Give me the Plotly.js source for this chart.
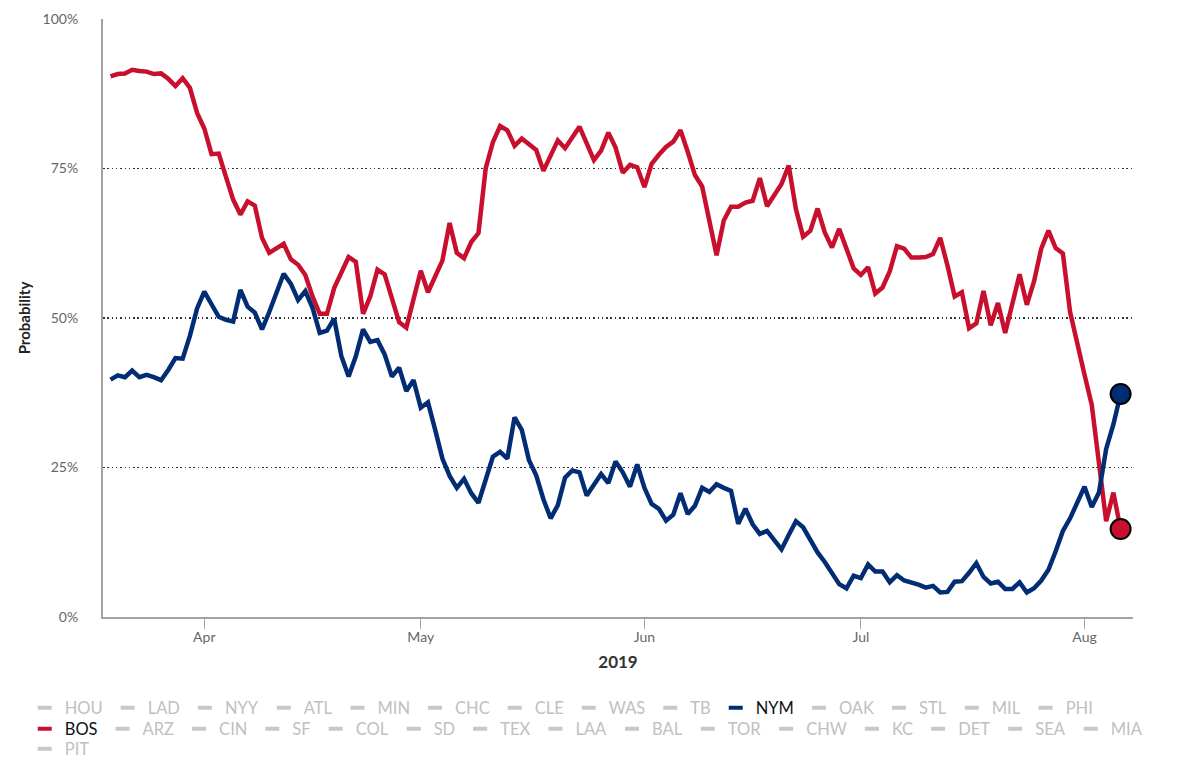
<!DOCTYPE html>
<html>
<head>
<meta charset="utf-8">
<script src="https://cdn.plot.ly/plotly-3.0.1.min.js"></script>
<style>
  html, body { margin: 0; padding: 0; background: #ffffff; }
  #chart { width: 1200px; height: 761px; }
</style>
</head>
<body>
<div id="chart"></div>
<script>
// ---- Data (daily, starting 2019-03-19) ----
const startDate = '2019-03-19';

const bosProb = [
  90.4, 90.8, 90.9, 91.5, 91.3, 91.2, 90.8, 90.9, 90.0, 88.8,
  90.1, 88.5, 84.3, 81.7, 77.4, 77.5, 73.6, 69.8, 67.3, 69.5,
  68.8, 63.4, 60.9, 61.6, 62.4, 59.8, 58.9, 57.2, 53.6, 50.7,
  50.7, 55.0, 57.7, 60.2, 59.4, 50.7, 53.6, 58.1, 57.3, 53.2,
  49.3, 48.4, 53.2, 57.9, 54.3, 57.1, 59.6, 65.9, 60.9, 60.0,
  62.7, 64.2, 75.0, 79.4, 82.1, 81.4, 78.8, 80.0, 79.0, 78.1,
  74.6, 77.0, 79.7, 78.4, 80.2, 82.0, 79.2, 76.4, 78.0, 81.0,
  78.5, 74.3, 75.6, 75.2, 71.9, 75.8, 77.3, 78.6, 79.5, 81.4,
  77.8, 73.9, 72.0, 66.5, 60.5, 66.3, 68.6, 68.6, 69.3, 69.6,
  73.4, 68.7, 70.5, 72.4, 75.5, 68.2, 63.6, 64.6, 68.3, 64.3,
  61.8, 64.9, 61.6, 58.3, 57.2, 58.5, 54.1, 55.1, 57.8, 62.0,
  61.6, 60.1, 60.1, 60.2, 60.7, 63.4, 58.8, 53.6, 54.3, 48.3,
  49.1, 54.5, 48.8, 52.5, 47.5, 52.3, 57.3, 52.2, 56.1, 61.6,
  64.6, 61.7, 60.8, 51.0, 45.5, 40.5, 35.5, 25.2, 16.0, 20.8,
  14.7
];

const nymProb = [
  39.7, 40.4, 40.1, 41.2, 40.1, 40.5, 40.1, 39.6, 41.3, 43.3,
  43.2, 47.0, 51.6, 54.4, 52.3, 50.2, 49.7, 49.4, 54.7, 51.9,
  50.9, 48.1, 51.0, 54.3, 57.4, 55.7, 53.0, 54.5, 51.7, 47.5,
  47.9, 49.9, 43.6, 40.2, 43.6, 48.1, 46.0, 46.3, 43.9, 40.2,
  41.7, 37.8, 39.6, 35.0, 35.9, 31.3, 26.5, 23.6, 21.6, 23.1,
  20.7, 19.1, 22.9, 26.8, 27.6, 26.5, 33.4, 31.3, 26.2, 23.7,
  19.7, 16.5, 18.7, 23.3, 24.5, 24.2, 20.3, 22.0, 23.9, 22.4,
  26.0, 24.2, 21.8, 25.5, 21.6, 18.9, 18.1, 16.1, 17.1, 20.7,
  17.2, 18.6, 21.6, 20.9, 22.2, 21.6, 21.1, 15.6, 18.1, 15.5,
  13.9, 14.4, 12.7, 11.3, 13.7, 16.0, 15.0, 12.8, 10.8, 9.2,
  7.3, 5.5, 4.8, 6.9, 6.5, 8.8, 7.6, 7.6, 5.8, 7.0,
  6.1, 5.8, 5.4, 4.9, 5.2, 4.1, 4.2, 5.9, 6.0, 7.4,
  9.0, 6.7, 5.6, 5.9, 4.7, 4.7, 5.8, 4.1, 4.8, 6.1,
  7.9, 11.0, 14.4, 16.5, 19.2, 21.8, 18.4, 20.8, 28.1, 32.2,
  37.3
];

const yTicks = [0, 25, 50, 75, 100];
const yTickText = ['0%', '25%', '50%', '75%', '100%'];
const monthTicks = ['2019-04-01', '2019-05-01', '2019-06-01', '2019-07-01', '2019-08-01'];
const monthLabels = ['Apr', 'May', 'Jun', 'Jul', 'Aug'];

const legendRow1 = ['HOU', 'LAD', 'NYY', 'ATL', 'MIN', 'CHC', 'CLE', 'WAS', 'TB', 'NYM', 'OAK', 'STL', 'MIL', 'PHI'];
const legendRow2 = ['BOS', 'ARZ', 'CIN', 'SF', 'COL', 'SD', 'TEX', 'LAA', 'BAL', 'TOR', 'CHW', 'KC', 'DET', 'SEA', 'MIA'];
const legendRow3 = ['PIT'];

const teamColors = { NYM: '#022C73', BOS: '#C8102E' };
const inactiveSymbol = '#c8c8c8';
const inactiveText = '#c0c0c0';

// ---- Build dates ----
function buildDates(start, n) {
  const out = [];
  const d0 = new Date(start + 'T00:00:00Z');
  for (let i = 0; i < n; i++) {
    const d = new Date(d0.getTime() + i * 86400000);
    out.push(d.toISOString().slice(0, 10));
  }
  return out;
}
const dates = buildDates(startDate, bosProb.length);

const traces = [];

traces.push({
  type: 'scatter', mode: 'lines', name: 'BOS',
  x: dates, y: bosProb,
  line: { color: teamColors.BOS, width: 4.5, shape: 'linear' },
  showlegend: false, hoverinfo: 'skip'
});
traces.push({
  type: 'scatter', mode: 'lines', name: 'NYM',
  x: dates, y: nymProb,
  line: { color: teamColors.NYM, width: 4.5, shape: 'linear' },
  showlegend: false, hoverinfo: 'skip'
});
// end-point markers
traces.push({
  type: 'scatter', mode: 'markers', name: 'BOS end',
  x: [dates[dates.length - 1]], y: [bosProb[bosProb.length - 1]],
  marker: { color: teamColors.BOS, size: 20, line: { color: '#000', width: 2 } },
  showlegend: false, hoverinfo: 'skip', cliponaxis: false
});
traces.push({
  type: 'scatter', mode: 'markers', name: 'NYM end',
  x: [dates[dates.length - 1]], y: [nymProb[nymProb.length - 1]],
  marker: { color: teamColors.NYM, size: 20, line: { color: '#000', width: 2 } },
  showlegend: false, hoverinfo: 'skip', cliponaxis: false
});

function addLegendRow(teams, legendId) {
  teams.forEach(t => {
    const active = teamColors[t] !== undefined;
    const col = active ? teamColors[t] : inactiveSymbol;
    traces.push({
      type: 'scatter', mode: 'markers',
      name: active ? t : '<span style="color:' + inactiveText + '">' + t + '</span>',
      x: [null], y: [null],
      legend: legendId,
      marker: { symbol: 'line-ew', size: 10, color: col, line: { color: col, width: 4 } },
      showlegend: true, hoverinfo: 'skip'
    });
  });
}
addLegendRow(legendRow1, 'legend');
addLegendRow(legendRow2, 'legend2');
addLegendRow(legendRow3, 'legend3');

const legendBase = {
  orientation: 'h', xanchor: 'left', yanchor: 'middle',
  x: -0.076,
  font: { family: 'Lato', size: 16.5, color: '#111' },
  bgcolor: 'rgba(0,0,0,0)', borderwidth: 0,
  itemwidth: 30, itemclick: false, itemdoubleclick: false,
  traceorder: 'normal'
};

const layout = {
  width: 1200, height: 761,
  margin: { l: 103, r: 67, t: 19, b: 144, autoexpand: false },
  paper_bgcolor: '#ffffff', plot_bgcolor: '#ffffff',
  font: { family: 'Lato', size: 14, color: '#666' },
  showlegend: true,
  xaxis: {
    type: 'date',
    range: ['2019-03-17 23:00', '2019-08-07 17:15'],
    tickvals: monthTicks, ticktext: monthLabels,
    showgrid: false, zeroline: false,
    showline: true, linecolor: '#a3a3a3', linewidth: 2,
    ticks: 'outside', ticklen: 10, tickwidth: 1, tickcolor: '#a3a3a3',
    ticklabelstandoff: -4,
    tickfont: { family: 'Lato', size: 14, color: '#666' },
    title: { text: '2019', font: { family: 'Lato', size: 17, color: '#333', weight: 'bold' }, standoff: 12 },
    fixedrange: true
  },
  yaxis: {
    range: [0, 100],
    tickvals: yTicks, ticktext: yTickText,
    showgrid: true, gridcolor: '#333', gridwidth: 1.3, griddash: '1.5px,2.8px',
    zeroline: false,
    showline: true, linecolor: '#a3a3a3', linewidth: 2,
    ticks: '', ticklabelstandoff: 20,
    tickfont: { family: 'Lato', size: 14, color: '#666' },
    title: { text: 'Probability', font: { family: 'Lato', size: 15, color: '#222', weight: 'bold' }, standoff: 8 },
    fixedrange: true
  },
  legend: Object.assign({}, legendBase, { y: -0.1522 }),
  legend2: Object.assign({}, legendBase, { y: -0.1873 }),
  legend3: Object.assign({}, legendBase, { y: -0.2207 })
};

Plotly.newPlot('chart', traces, layout, { staticPlot: true, displayModeBar: false });
</script>
</body>
</html>
